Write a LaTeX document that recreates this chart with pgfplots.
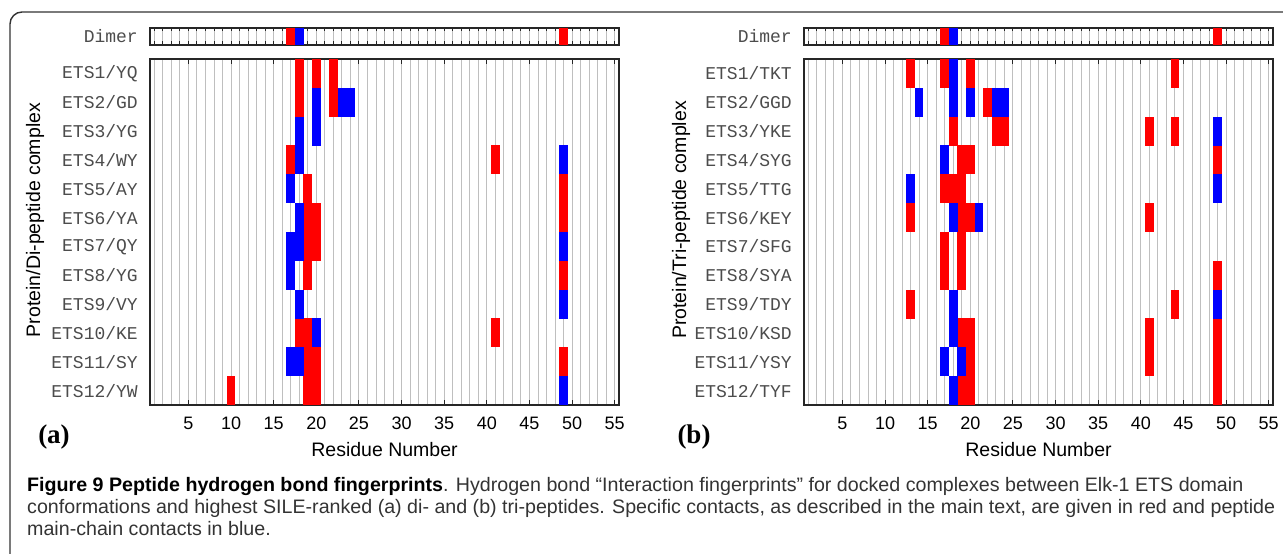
\documentclass[border=0pt]{standalone}
\usepackage{pgfplots}
\pgfplotsset{compat=1.18}
\usepackage{pgfplotstable}
\usepackage{graphicx}
\usepackage{fontspec}
\setmainfont{Liberation Sans}
\newfontfamily\monof{Liberation Mono}
\newfontfamily\serf{Liberation Serif}

% one residue cell (axis width 469pt / 55 residues; heights 346pt/12 and 17pt)
\pgfdeclareplotmark{cellm}{\pgfpathrectangle{\pgfpoint{-4.3pt}{-14.45pt}}{\pgfpoint{8.6pt}{28.9pt}}\pgfusepathqfill}
\pgfdeclareplotmark{celld}{\pgfpathrectangle{\pgfpoint{-4.3pt}{-8.5pt}}{\pgfpoint{8.6pt}{17pt}}\pgfusepathqfill}

% ---------------- data: residue (x), complex row (y) ----------------
\pgfplotstableread{
x y
17 1
49 1
}\dimRed
\pgfplotstableread{
x y
18 1
}\dimBlue

\pgfplotstableread{
x y
18 1
20 1
22 1
18 2
22 2
17 4
41 4
19 5
49 5
19 6
20 6
49 6
19 7
20 7
19 8
49 8
18 10
19 10
41 10
19 11
20 11
49 11
10 12
19 12
20 12
}\aRed
\pgfplotstableread{
x y
20 2
23 2
24 2
18 3
20 3
18 4
49 4
17 5
18 6
17 7
18 7
49 7
17 8
18 9
49 9
20 10
17 11
18 11
49 12
}\aBlue

\pgfplotstableread{
x y
13 1
17 1
20 1
44 1
22 2
18 3
23 3
24 3
41 3
44 3
19 4
20 4
49 4
17 5
18 5
19 5
13 6
19 6
20 6
41 6
17 7
19 7
17 8
19 8
49 8
13 9
44 9
19 10
20 10
41 10
49 10
20 11
41 11
49 11
19 12
20 12
49 12
}\bRed
\pgfplotstableread{
x y
18 1
14 2
18 2
20 2
23 2
24 2
49 3
17 4
13 5
49 5
18 6
21 6
18 9
49 9
18 10
17 11
19 11
18 12
}\bBlue

\pgfplotsset{
  base/.style={
    scale only axis, width=469pt, xmin=0.5, xmax=55.5,
    axis line style={line width=1.3pt, black!85},
    xmajorgrids, xminorgrids,
    grid style={gray!50, line width=0.9pt},
    minor grid style={gray!50, line width=0.9pt},
    xtick={5,10,...,55}, minor xtick={1,...,55},
    tick align=inside,
    xtick style={black!85, line width=0.9pt},
    ytick style={draw=none},
    /pgf/number format/assume math mode=true,
    yticklabel style={font=\monof\fontsize{18}{20}\selectfont, inner sep=0pt, xshift=-12pt, text=black!70},
    y dir=reverse,
  },
  mainax/.style={base, height=346pt, ymin=0.5, ymax=12.5, ytick={1,...,12},
    major tick length=5pt, minor tick length=0pt,
    xticklabel style={font=\fontsize{18}{20}\selectfont, inner sep=0pt, yshift=-12pt}},
  dimax/.style={base, height=17pt, ymin=0.5, ymax=1.5, ytick={1}, yticklabels={Dimer},
    xticklabels={}, major tick length=3.5pt, minor tick length=3.5pt},
}

\begin{document}
\begin{tikzpicture}[x=1pt,y=1pt]
\useasboundingbox (0,0) rectangle (1283,554);

% frame
\draw[line width=1.4pt, black!80] (10,-2) -- (10,530) arc[start angle=180, end angle=90, radius=12] -- (1290,542);

% ---------------- panel (a) ----------------
\begin{axis}[dimax, at={(150pt,509pt)}, anchor=south west]
  \addplot[only marks, mark=celld, color=red] table {\dimRed};
  \addplot[only marks, mark=celld, color=blue] table {\dimBlue};
\end{axis}
\begin{axis}[mainax, at={(150pt,149pt)}, anchor=south west,
  yticklabels={ETS1/YQ,ETS2/GD,ETS3/YG,ETS4/WY,ETS5/AY,ETS6/YA,ETS7/QY,ETS8/YG,ETS9/VY,ETS10/KE,ETS11/SY,ETS12/YW}]
  \addplot[only marks, mark=cellm, color=red] table {\aRed};
  \addplot[only marks, mark=cellm, color=blue] table {\aBlue};
\end{axis}
\node[font=\fontsize{19.5}{22}\selectfont] at (384.5,104) {Residue Number};
\node[font=\fontsize{19.5}{22}\selectfont, rotate=90] at (35,334) {Protein/Di-peptide complex};
\node[font=\serf\bfseries\fontsize{27}{30}\selectfont] at (54,117) {(a)};

% ---------------- panel (b) ----------------
\begin{axis}[dimax, at={(804pt,509pt)}, anchor=south west]
  \addplot[only marks, mark=celld, color=red] table {\dimRed};
  \addplot[only marks, mark=celld, color=blue] table {\dimBlue};
\end{axis}
\begin{axis}[mainax, at={(804pt,149pt)}, anchor=south west,
  yticklabels={ETS1/TKT,ETS2/GGD,ETS3/YKE,ETS4/SYG,ETS5/TTG,ETS6/KEY,ETS7/SFG,ETS8/SYA,ETS9/TDY,ETS10/KSD,ETS11/YSY,ETS12/TYF}]
  \addplot[only marks, mark=cellm, color=red] table {\bRed};
  \addplot[only marks, mark=cellm, color=blue] table {\bBlue};
\end{axis}
\node[font=\fontsize{19.5}{22}\selectfont] at (1038.5,104) {Residue Number};
\node[font=\fontsize{19.5}{22}\selectfont, rotate=90] at (681,334) {Protein/Tri-peptide complex};
\node[font=\serf\bfseries\fontsize{27}{30}\selectfont] at (694,117) {(b)};

% ---------------- caption ----------------
\node[anchor=base west, inner sep=0pt, text=black!80] at (27,62) {\resizebox{1248pt}{\height}{\fontsize{19.5}{22}\selectfont\begin{tabular}[t]{@{}l@{}}
\textbf{\color{black}Figure 9 Peptide hydrogen bond fingerprints}. Hydrogen bond “Interaction fingerprints” for docked complexes between Elk-1 ETS domain\\
conformations and highest SILE-ranked (a) di- and (b) tri-peptides. Specific contacts, as described in the main text, are given in red and peptide\\
main-chain contacts in blue.
\end{tabular}}};
\end{tikzpicture}
\end{document}
